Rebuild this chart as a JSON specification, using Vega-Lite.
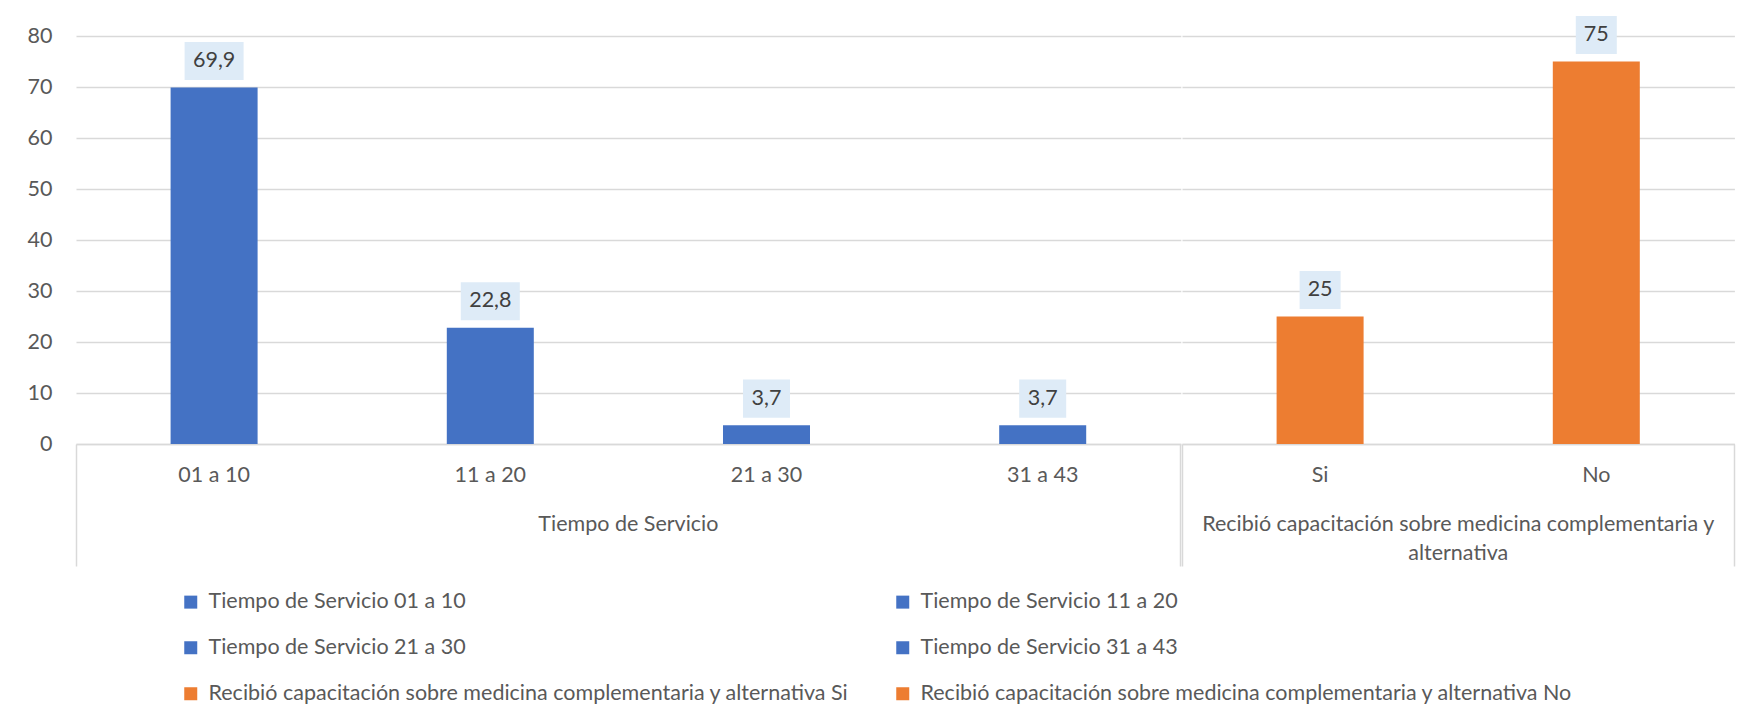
{
  "$schema": "https://vega.github.io/schema/vega-lite/v6.json",
  "padding": {"left": 27, "top": 15, "right": 5, "bottom": 5},
  "background": "white",
  "data": {
    "values": [
      {"grupo": "Tiempo de Servicio", "cat": "01 a 10", "serie": "Tiempo de Servicio 01 a 10", "valor": 69.9},
      {"grupo": "Tiempo de Servicio", "cat": "11 a 20", "serie": "Tiempo de Servicio 11 a 20", "valor": 22.8},
      {"grupo": "Tiempo de Servicio", "cat": "21 a 30", "serie": "Tiempo de Servicio 21 a 30", "valor": 3.7},
      {"grupo": "Tiempo de Servicio", "cat": "31 a 43", "serie": "Tiempo de Servicio 31 a 43", "valor": 3.7},
      {"grupo": "Recibió capacitación sobre medicina complementaria y alternativa", "cat": "Si", "serie": "Recibió capacitación sobre medicina complementaria y alternativa Si", "valor": 25},
      {"grupo": "Recibió capacitación sobre medicina complementaria y alternativa", "cat": "No", "serie": "Recibió capacitación sobre medicina complementaria y alternativa No", "valor": 75}
    ]
  },
  "facet": {
    "column": {
      "field": "grupo",
      "type": "nominal",
      "sort": ["Tiempo de Servicio", "Recibió capacitación sobre medicina complementaria y alternativa"],
      "title": null,
      "header": {
        "labelOrient": "bottom",
        "labelPadding": -53,
        "labelFont": "Lato",
        "labelFontSize": 21.5,
        "labelColor": "#595959",
        "labelLineHeight": 29,
        "labelExpr": "length(datum.value) > 40 ? [slice(datum.value, 0, lastindexof(datum.value, ' ')), slice(datum.value, lastindexof(datum.value, ' ') + 1)] : datum.value"
      }
    }
  },
  "spacing": 0,
  "resolve": {"scale": {"x": "independent"}},
  "spec": {
    "width": {"step": 276.2},
    "height": 408,
    "encoding": {
      "x": {
        "field": "cat",
        "type": "nominal",
        "sort": null,
        "title": null,
        "scale": {"paddingInner": 0, "paddingOuter": 0},
        "axis": {
          "labelAngle": 0,
          "labelPadding": -101.5,
          "bandPosition": 1,
          "tickExtra": true,
          "ticks": true,
          "tickSize": 122,
          "tickColor": "#D9D9D9",
          "tickWidth": 1.5,
          "tickOpacity": {"condition": {"test": "datum.index == 1 || datum.index < 0 || datum.extra", "value": 1}, "value": 0},
          "domainColor": "#D9D9D9",
          "domainWidth": 1.5
        }
      },
      "y": {
        "field": "valor",
        "type": "quantitative",
        "title": null,
        "scale": {"domain": [0, 80], "nice": false},
        "axis": {
          "values": [0, 10, 20, 30, 40, 50, 60, 70, 80],
          "domain": false,
          "ticks": false,
          "labelPadding": 23,
          "gridColor": "#D9D9D9",
          "gridWidth": 1.5
        }
      }
    },
    "layer": [
      {
        "mark": {"type": "bar", "width": {"band": 0.315}},
        "encoding": {
          "color": {
            "field": "serie",
            "type": "nominal",
            "scale": {
              "domain": [
                "Tiempo de Servicio 01 a 10",
                "Tiempo de Servicio 11 a 20",
                "Tiempo de Servicio 21 a 30",
                "Tiempo de Servicio 31 a 43",
                "Recibió capacitación sobre medicina complementaria y alternativa Si",
                "Recibió capacitación sobre medicina complementaria y alternativa No"
              ],
              "range": ["#4472C4", "#4472C4", "#4472C4", "#4472C4", "#ED7D31", "#ED7D31"]
            },
            "legend": {
              "title": null,
              "orient": "none",
              "legendX": 104,
              "legendY": 555,
              "direction": "horizontal",
              "columns": 2,
              "gridAlign": "all",
              "columnPadding": 31,
              "rowPadding": 23,
              "symbolType": "square",
              "symbolSize": 169,
              "symbolStrokeWidth": 0,
              "labelOffset": 7,
              "labelLimit": 1000
            }
          }
        }
      },
      {
        "mark": {"type": "point", "filled": true, "opacity": 1, "color": "#DEEBF7", "strokeWidth": 0, "yOffset": -26.5},
        "encoding": {
          "shape": {
            "condition": [
              {"test": "datum.valor >= 10 && datum.valor % 1 != 0", "value": "M-1,-0.644H1V0.644H-1Z"},
              {"test": "datum.valor % 1 != 0", "value": "M-1,-0.809H1V0.809H-1Z"}
            ],
            "value": "M-1,-0.927H1V0.927H-1Z"
          },
          "size": {
            "condition": [
              {"test": "datum.valor >= 10 && datum.valor % 1 != 0", "value": 3481},
              {"test": "datum.valor % 1 != 0", "value": 2209}
            ],
            "value": 1681
          }
        }
      },
      {
        "mark": {"type": "text", "yOffset": -26.5, "baseline": "middle", "align": "center", "font": "Lato", "fontSize": 21.5, "color": "#404040"},
        "encoding": {"text": {"field": "valor", "type": "quantitative", "format": ".1~f"}}
      }
    ]
  },
  "config": {
    "locale": {"number": {"decimal": ",", "thousands": ".", "grouping": [3], "currency": ["", " €"]}},
    "view": {"stroke": null},
    "font": "Lato",
    "axis": {"labelFont": "Lato", "labelFontSize": 21.5, "labelColor": "#595959"},
    "legend": {"labelFont": "Lato", "labelFontSize": 21.5, "labelColor": "#595959"}
  }
}
